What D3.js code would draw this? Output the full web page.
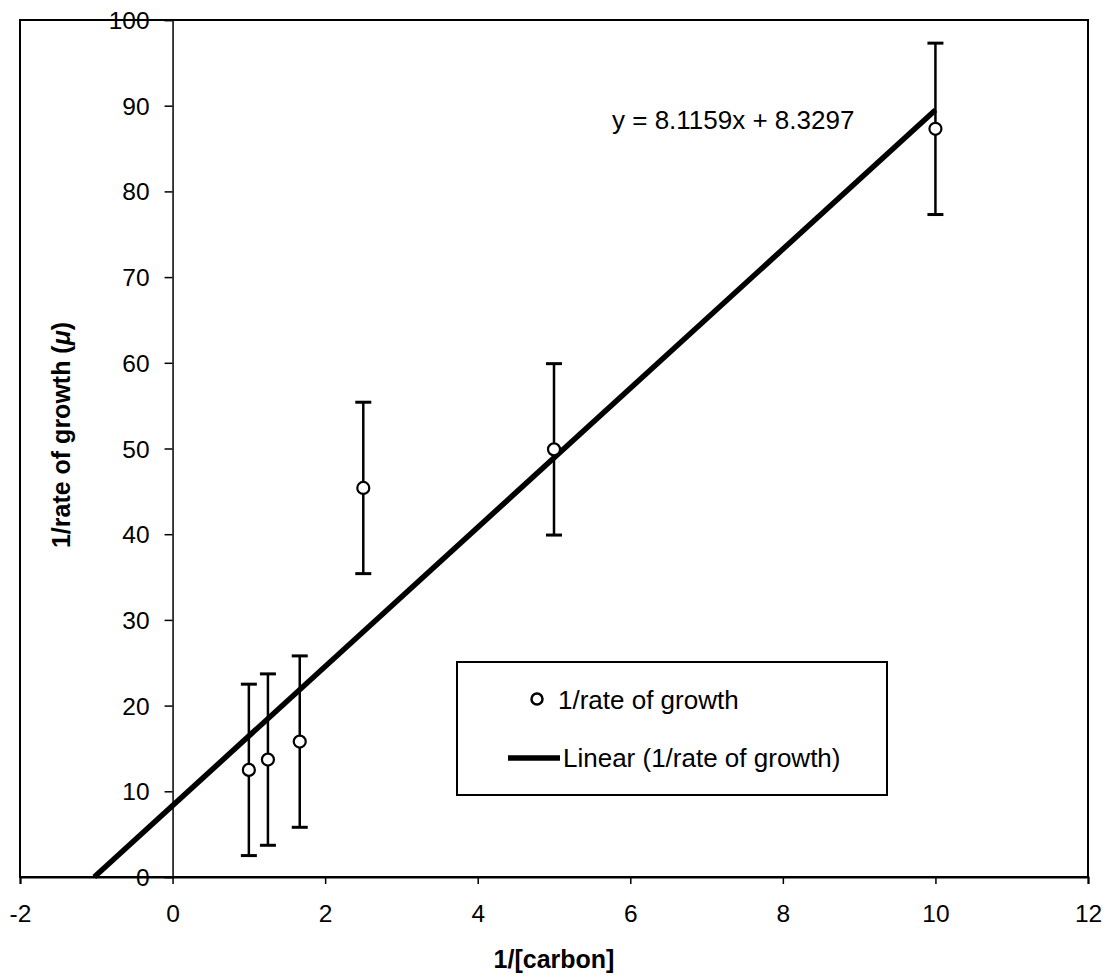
<!DOCTYPE html>
<html>
<head>
<meta charset="utf-8">
<script src="https://cdn.jsdelivr.net/npm/d3@7"></script>
<style>
  html, body { margin: 0; padding: 0; background: #fff; }
  svg { display: block; font-family: "Liberation Sans", Arial, sans-serif; }
</style>
</head>
<body>
<svg id="chart" width="1109" height="978"></svg>
<script>
// Observations: 1/[carbon] against 1/rate of growth, with ±10 error bars
const inverseCarbon = [1, 1.25, 1.667, 2.5, 5, 10];
const inverseRate   = [12.5, 13.7, 15.8, 45.4, 49.9, 87.3];
const rateError     = [10, 10, 10, 10, 10, 10];

// Fitted trend line coefficients
const slope = 8.1159;
const intercept = 8.3297;
const trendEndX = 10;

const xTicks = [-2, 0, 2, 4, 6, 8, 10, 12];
const yTicks = [0, 10, 20, 30, 40, 50, 60, 70, 80, 90, 100];

const FONT = "Liberation Sans, Arial, sans-serif";
const svg = d3.select("#chart");

const x = d3.scaleLinear().domain([-2, 12]).range([20, 1088]);
const y = d3.scaleLinear().domain([0, 100]).range([877, 20]);

// Plot frame
svg.append("rect")
  .attr("x", x(-2)).attr("y", y(100))
  .attr("width", x(12) - x(-2)).attr("height", y(0) - y(100))
  .attr("fill", "none").attr("stroke", "#000").attr("stroke-width", 2);

// X axis along y = 0
const xAxis = d3.axisBottom(x).tickValues(xTicks).tickSize(7).tickPadding(21)
  .tickFormat(d => String(d));
const gx = svg.append("g").attr("transform", `translate(0,${y(0)})`).call(xAxis);
gx.attr("font-size", null).attr("font-family", null);
gx.select(".domain").attr("stroke-width", 2);
gx.selectAll(".tick line").attr("stroke-width", 1.5);
gx.selectAll("text").style("font-size", "24.5px").style("font-family", FONT).attr("dy", "0");

// Y axis through x = 0
const yAxis = d3.axisLeft(y).tickValues(yTicks).tickSize(8).tickPadding(15)
  .tickFormat(d => String(d));
const gy = svg.append("g").attr("transform", `translate(${x(0)},0)`).call(yAxis);
gy.attr("font-size", null).attr("font-family", null);
gy.select(".domain").attr("stroke-width", 1.5);
gy.selectAll(".tick line").attr("stroke-width", 1.5);
gy.selectAll("text").style("font-size", "24.5px").style("font-family", FONT).attr("dy", "0.35em");

// Shift x tick labels so their baseline sits just under the ticks
gx.selectAll("text").attr("y", 45);

// Axis titles
svg.append("text")
  .attr("x", (x(-2) + x(12)) / 2).attr("y", 968)
  .attr("text-anchor", "middle")
  .style("font-size", "25px").attr("font-weight", "bold")
  .text("1/[carbon]");

const yTitle = svg.append("text")
  .attr("transform", `translate(70,435) rotate(-90)`)
  .attr("text-anchor", "middle")
  .style("font-size", "25px").attr("font-weight", "bold");
yTitle.append("tspan").text("1/rate of growth (");
yTitle.append("tspan").attr("font-style", "italic").text("\u03BC");
yTitle.append("tspan").text(")");

// Trend line from its x-intercept to the last observation
const trendStartX = -intercept / slope;
svg.append("line")
  .attr("x1", x(trendStartX)).attr("y1", y(slope * trendStartX + intercept))
  .attr("x2", x(trendEndX)).attr("y2", y(slope * trendEndX + intercept))
  .attr("stroke", "#000").attr("stroke-width", 5.5);

// Error bars
const points = inverseCarbon.map((d, i) => ({ x: d, y: inverseRate[i], e: rateError[i] }));
const capHalf = 8;
const bars = svg.append("g").attr("stroke", "#000").attr("stroke-width", 2.5);
bars.selectAll("line.stem").data(points).join("line").attr("class", "stem")
  .attr("x1", d => x(d.x)).attr("x2", d => x(d.x))
  .attr("y1", d => y(d.y + d.e)).attr("y2", d => y(d.y - d.e));
bars.selectAll("line.capTop").data(points).join("line").attr("class", "capTop")
  .attr("x1", d => x(d.x) - capHalf).attr("x2", d => x(d.x) + capHalf)
  .attr("y1", d => y(d.y + d.e)).attr("y2", d => y(d.y + d.e))
  .attr("stroke-width", 3);
bars.selectAll("line.capBottom").data(points).join("line").attr("class", "capBottom")
  .attr("x1", d => x(d.x) - capHalf).attr("x2", d => x(d.x) + capHalf)
  .attr("y1", d => y(d.y - d.e)).attr("y2", d => y(d.y - d.e))
  .attr("stroke-width", 3);

// Markers
svg.append("g").selectAll("circle").data(points).join("circle")
  .attr("cx", d => x(d.x)).attr("cy", d => y(d.y)).attr("r", 6)
  .attr("fill", "#fff").attr("stroke", "#000").attr("stroke-width", 2.2);

// Equation label
svg.append("text")
  .attr("x", 612).attr("y", 129)
  .style("font-size", "26px")
  .text(`y = ${slope}x + ${intercept}`);

// Legend
const lg = svg.append("g");
lg.append("rect")
  .attr("x", 457).attr("y", 662).attr("width", 430).attr("height", 133)
  .attr("fill", "#fff").attr("stroke", "#000").attr("stroke-width", 2);
lg.append("circle")
  .attr("cx", 537).attr("cy", 699).attr("r", 5.5)
  .attr("fill", "#fff").attr("stroke", "#000").attr("stroke-width", 2.5);
lg.append("text")
  .attr("x", 558).attr("y", 709).style("font-size", "26px")
  .text("1/rate of growth");
lg.append("line")
  .attr("x1", 508).attr("x2", 560).attr("y1", 758).attr("y2", 758)
  .attr("stroke", "#000").attr("stroke-width", 5.5);
lg.append("text")
  .attr("x", 563).attr("y", 767).style("font-size", "26px")
  .text("Linear (1/rate of growth)");
</script>
</body>
</html>
